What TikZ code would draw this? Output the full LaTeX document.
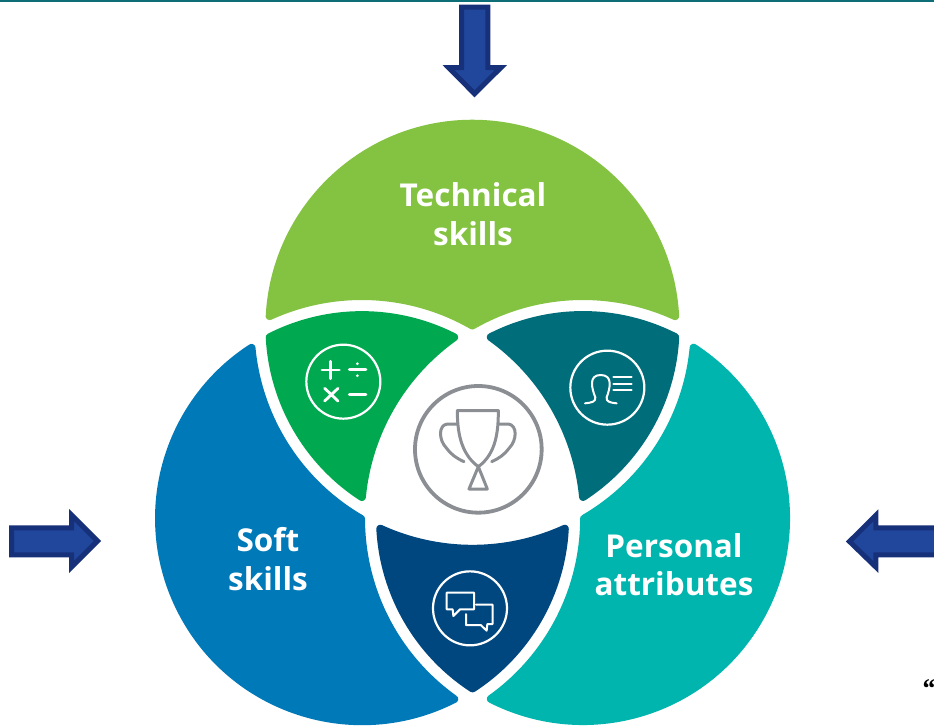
\documentclass[tikz,border=0pt]{standalone}
\usepackage{fontspec}
\newfontfamily\lblfont{Open Sans}
\newfontfamily\quotefont{Liberation Serif}
\definecolor{cgreen}{HTML}{84C341}
\definecolor{cdgreen}{HTML}{00A94F}
\definecolor{cdteal}{HTML}{006E7A}
\definecolor{cteal}{HTML}{00B5AD}
\definecolor{cblue}{HTML}{0079B8}
\definecolor{cnavy}{HTML}{00477F}
\definecolor{cgray}{HTML}{8B8F94}
\definecolor{afill}{HTML}{21479C}
\definecolor{aline}{HTML}{17307A}
\definecolor{topbar}{HTML}{0E6E78}
\tikzset{
  region/.style={line width=8pt,line join=round},
  blockarrow/.style={fill=afill,draw=aline,line width=5pt,line join=miter},
  iconring/.style={draw=white,line width=2.2pt},
  icon/.style={draw=white,line width=2.8pt,line cap=round,line join=round},
  iconthin/.style={draw=white,line width=2pt,line join=round,line cap=round},
  trophy/.style={draw=cgray,line width=3pt,line join=round,line cap=round},
  lbl/.style={text=white,align=center,font=\lblfont\bfseries\fontsize{31.5}{38.5}\selectfont,inner sep=0pt}
}
\newcommand{\petal}[2]{%
  \filldraw[region,draw=#2,fill=#2,rotate=#1]
    (-202.8,138.2) arc[start angle=177,end angle=3,radius=203]
    arc[start angle=65.44,end angle=119.86,radius=222]
    arc[start angle=60.14,end angle=114.56,radius=222] -- cycle;}
\newcommand{\lens}[2]{%
  \filldraw[region,draw=#2,fill=#2,rotate=#1]
    (-202.7,117.05) arc[start angle=117,end angle=63,radius=203]
    arc[start angle=125.45,end angle=174.55,radius=222]
    arc[start angle=237,end angle=183,radius=203] -- cycle;}
\begin{document}
\begin{tikzpicture}[x=1pt,y=-1pt]
\useasboundingbox (0,0) rectangle (934,726);
\clip (0,0) rectangle (934,726);
\fill[white] (0,0) rectangle (934,726);
\fill[topbar] (0,0) rectangle (934,2);
% Venn regions, built around the centroid
\begin{scope}[shift={(472.5,454.3)},yscale=-1]
  \petal{0}{cgreen}
  \petal{120}{cteal}
  \petal{240}{cblue}
  \lens{0}{cdgreen}
  \lens{120}{cdteal}
  \lens{240}{cnavy}
\end{scope}
% arrows
\draw[blockarrow] (461.5,7.2) -- (487.8,7.2) -- (487.8,67.5) -- (501,67.5) -- (474.5,93.8) -- (448.5,67.5) -- (461.5,67.5) -- cycle;
\draw[blockarrow] (11.5,527.8) -- (71.5,527.8) -- (71.5,515) -- (97.5,541) -- (71.5,567) -- (71.5,554.8) -- (11.5,554.8) -- cycle;
\draw[blockarrow] (940,527.8) -- (875.8,527.8) -- (875.8,515.3) -- (849.5,541.5) -- (875.8,567) -- (875.8,554.8) -- (940,554.8) -- cycle;
% labels
\node[lbl] (tech) at (473,214) {Technical\\skills};
\node[lbl] (soft) at (268,559) {Soft\\skills};
\node[lbl] (pers) at (674,564.5) {Personal\\attributes};
\node[text=black,anchor=east,font=\quotefont\bfseries\itshape\fontsize{27}{27}\selectfont,inner sep=0pt] (quote) at (935,689) {“};
% trophy
\begin{scope}[shift={(250,290)},scale=1/3]
  \draw[trophy,line width=3.8pt] (685,478) circle[radius=190];
  \draw[trophy] (622,362) -- (745,362) .. controls (745,420) and (740,490) .. (685,530)
     .. controls (630,490) and (622,420) .. (622,362) -- cycle;
  \draw[trophy] (622,402) -- (592,402) .. controls (565,405) and (565,450) .. (590,475) .. controls (605,495) and (620,505) .. (642,515);
  \draw[trophy] (745,402) -- (775,402) .. controls (802,405) and (802,450) .. (777,475) .. controls (762,495) and (747,505) .. (725,515);
  \draw[trophy] (685,530) -- (712,597) -- (657,597) -- cycle;
  % calculator icon
  \draw[iconring] (280,275) circle[radius=111];
  \draw[icon] (216,240) -- (268,240) (242,214) -- (242,266);
  \draw[icon] (298,238) -- (348,238);
  \fill[white] (322,221) circle[radius=4.5] (322,257) circle[radius=4.5];
  \draw[icon] (224,295) -- (264,333) (264,295) -- (224,333);
  \draw[icon] (298,314) -- (348,314);
  % person icon
  \draw[iconring] (1072,293) circle[radius=111];
  \draw[iconthin] (1005,340) .. controls (1025,338) and (1038,335) .. (1036,322)
     .. controls (1025,295) and (1015,255) .. (1052,255)
     .. controls (1090,255) and (1080,295) .. (1070,322)
     .. controls (1068,335) and (1080,338) .. (1100,340);
  \draw[iconthin] (1090,262) -- (1145,262) (1090,281) -- (1145,281) (1090,300) -- (1145,300);
\end{scope}
% chat icon
\begin{scope}[shift={(350,500)},scale=1/3]
  \draw[iconring] (360,325) circle[radius=111];
  \draw[iconthin] (290,278) -- (372,278) -- (372,328) -- (330,328) -- (310,348) -- (308,328) -- (290,328) -- cycle;
  \draw[iconthin] (378,314) -- (428,314) -- (428,372) -- (412,372) -- (410,392) -- (392,375) -- (348,375) -- (348,342);
\end{scope}
\end{tikzpicture}
\end{document}
